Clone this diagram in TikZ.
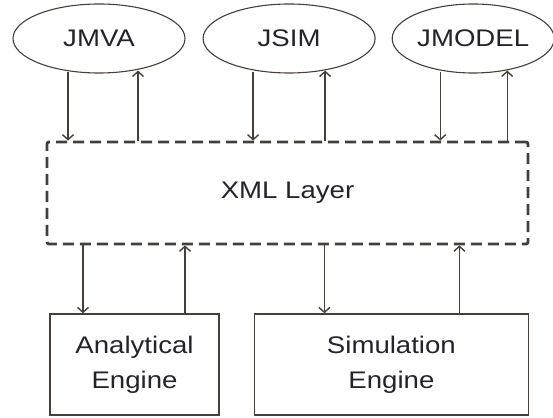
\documentclass[tikz,border=0pt]{standalone}
\usepackage{fontspec}
\setmainfont{Liberation Sans}[FakeStretch=1.15]
\usepackage{tikz}
\usetikzlibrary{shapes.geometric,arrows.meta,positioning}
\definecolor{edgegray}{RGB}{70,62,56}
\definecolor{textgray}{RGB}{35,35,45}
\tikzset{
	tool/.style={
		draw=edgegray, ellipse, line width=1.1pt,
		minimum width=172pt, minimum height=69pt,
		inner sep=0pt, text=textgray,
		font=\fontsize{24}{35}\selectfont
	},
	layer/.style={
		draw=edgegray, rectangle, line width=2.8pt,
		dash pattern=on 11pt off 6pt, rounded corners=2pt,
		minimum width=481pt, minimum height=102pt,
		inner sep=0pt, text=textgray,
		font=\fontsize{24}{35}\selectfont
	},
	engine/.style={
		draw=edgegray, rectangle, line width=1.4pt,
		minimum height=101pt, align=center,
		inner sep=0pt, text=textgray,
		font=\fontsize{24}{35}\selectfont
	},
	flow/.style={-{Straight Barb[length=5pt,width=11pt]}, edgegray, line width=1.4pt}
}
\begin{document}
\begin{tikzpicture}[x=1pt,y=1pt]
	\useasboundingbox (0,0) rectangle (553,417);
	\node[layer] (xml) at (287.5,224) {XML Layer};
	\node[tool] (jmva) at (99,378.5) {JMVA};
	\node[tool, right=17pt of jmva] (jsim) {JSIM};
	\node[tool, minimum width=162pt, right=16pt of jsim] (jmodel) {JMODEL};
	\node[engine, minimum width=169pt] (ana) at (134.5,52.5) {Analytical\\Engine};
	\node[engine, minimum width=274pt, right=34pt of ana] (sim) {Simulation\\Engine};
	% tools <-> xml layer
	\draw[flow] ([shift={(-31pt,2pt)}]jmva.south) -- ([xshift=-31pt]jmva.south |- xml.north);
	\draw[flow] ([xshift=39pt]jmva.south |- xml.north) -- ([shift={(39pt,3pt)}]jmva.south);
	\draw[flow] ([shift={(-36pt,2pt)}]jsim.south) -- ([xshift=-36pt]jsim.south |- xml.north);
	\draw[flow] ([xshift=36pt]jsim.south |- xml.north) -- ([shift={(36pt,3pt)}]jsim.south);
	\draw[flow] ([shift={(-33pt,2pt)}]jmodel.south) -- ([xshift=-33pt]jmodel.south |- xml.north);
	\draw[flow] ([xshift=34pt]jmodel.south |- xml.north) -- ([shift={(34pt,3pt)}]jmodel.south);
	% xml layer <-> engines
	\draw[flow] ([xshift=-51.5pt]ana.north |- xml.south) -- ([xshift=-51.5pt]ana.north);
	\draw[flow] ([xshift=50.5pt]ana.north) -- ([xshift=50.5pt]ana.north |- xml.south);
	\draw[flow] ([xshift=-67pt]sim.north |- xml.south) -- ([xshift=-67pt]sim.north);
	\draw[flow] ([xshift=68pt]sim.north) -- ([xshift=68pt]sim.north |- xml.south);
\end{tikzpicture}
\end{document}
